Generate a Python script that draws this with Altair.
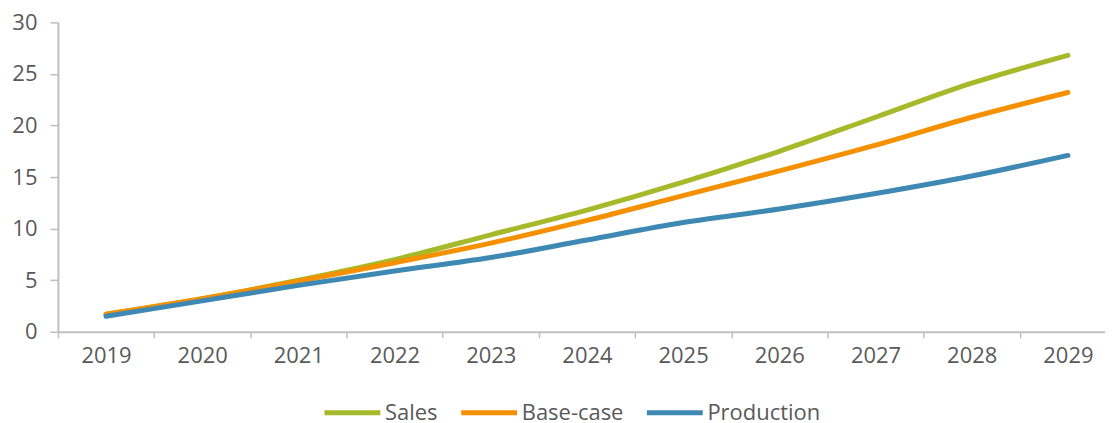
import altair as alt
import pandas as pd

years = ["2019", "2020", "2021", "2022", "2023", "2024", "2025", "2026", "2027", "2028", "2029"]
sales = [1.7, 3.2, 5.0, 7.0, 9.4, 11.8, 14.5, 17.5, 20.8, 24.1, 26.8]
base_case = [1.7, 3.2, 4.9, 6.7, 8.6, 10.8, 13.2, 15.6, 18.1, 20.8, 23.2]
production = [1.5, 3.0, 4.5, 5.9, 7.2, 8.9, 10.6, 11.9, 13.4, 15.1, 17.1]

series_names = ["Sales", "Base-case", "Production"]
series_colors = ["#A5BA2A", "#F59100", "#3D89B4"]

rows = []
for name, vals in zip(series_names, [sales, base_case, production]):
    for yr, v in zip(years, vals):
        rows.append({"year": yr, "value": v, "series": name, "order": series_names.index(name)})
df = pd.DataFrame(rows)

FONT = "Open Sans"
TXT = "#595959"
GRID = "#BFBFBF"
FS = 22

chart = alt.Chart(df).mark_line(
    strokeWidth=5, strokeCap="round", strokeJoin="round", interpolate="monotone"
).encode(
    x=alt.X("year:O", sort=years,
            scale=alt.Scale(type="band", paddingInner=0, paddingOuter=0),
            axis=alt.Axis(title=None, labelAngle=0, tickBand="extent", tickSize=6,
                          labelPadding=8, domainColor=GRID, tickColor=GRID,
                          domainWidth=2, tickWidth=1.5, labelColor=TXT,
                          labelFont=FONT, labelFontSize=FS)),
    y=alt.Y("value:Q",
            scale=alt.Scale(domain=[0, 30], nice=False),
            axis=alt.Axis(title=None, values=[0, 5, 10, 15, 20, 25, 30], tickSize=8,
                          labelPadding=13, domainColor=GRID, tickColor=GRID,
                          domainWidth=2, tickWidth=1.5, grid=False, labelColor=TXT,
                          labelFont=FONT, labelFontSize=FS)),
    color=alt.Color("series:N",
                    scale=alt.Scale(domain=series_names, range=series_colors),
                    sort=series_names,
                    legend=alt.Legend(title=None, orient="none", direction="horizontal",
                                      legendX=283, legendY=379,
                                      symbolType="M-3,0H3", symbolSize=348,
                                      symbolStrokeWidth=5, labelOffset=20.7,
                                      columnPadding=13, labelColor=TXT,
                                      labelFont=FONT, labelFontSize=FS)),
    order=alt.Order("order:Q"),
).properties(
    width=1060,
    height=310,
    padding={"left": 3, "top": 3, "right": -12, "bottom": 0},
).configure_view(stroke=None)

chart.save("out.html", embed_options={"renderer": "svg", "actions": False})
